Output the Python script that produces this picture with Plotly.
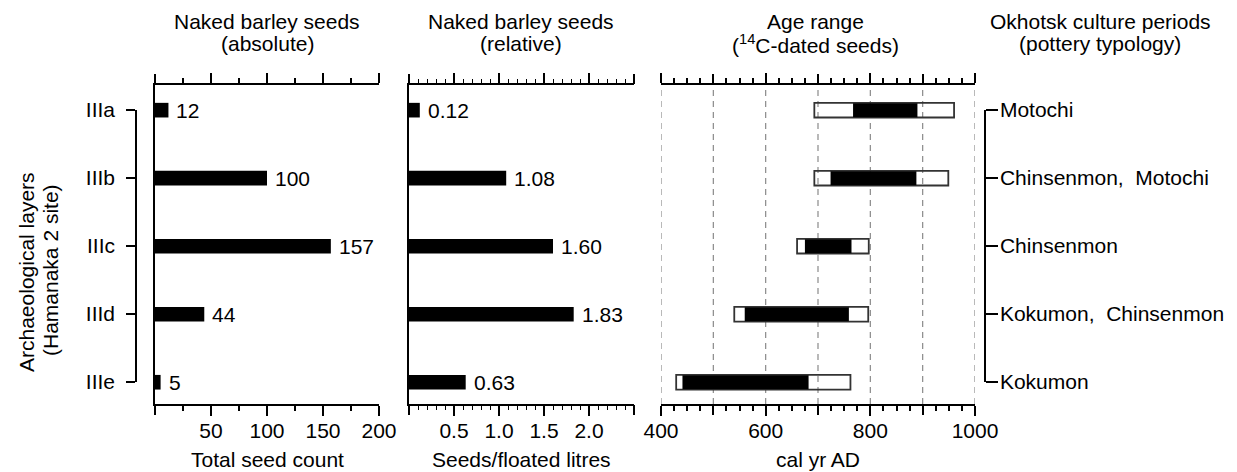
import plotly.graph_objects as go

# ---------------- data ----------------
layers = ["IIIa", "IIIb", "IIIc", "IIId", "IIIe"]
periods = ["Motochi", "Chinsenmon,  Motochi", "Chinsenmon", "Kokumon,  Chinsenmon", "Kokumon"]
seed_count = [12, 100, 157, 44, 5]
seed_density = [0.12, 1.08, 1.60, 1.83, 0.63]
density_labels = ["0.12", "1.08", "1.60", "1.83", "0.63"]
age_outer_start = [693, 693, 660, 540, 429]
age_outer_end = [960, 949, 797, 796, 762]
age_core_start = [767, 724, 675, 560, 441]
age_core_end = [890, 888, 764, 759, 682]

count_ticks = [50, 100, 150, 200]
count_extra_ticks = [0]
density_ticks = [0.5, 1.0, 1.5, 2.0]
density_ticklabels = ["0.5", "1.0", "1.5", "2.0"]
density_extra_ticks = [0, 2.5]
age_ticks = [400, 600, 800, 1000]
age_extra_ticks = [500, 700, 900]
age_grid = [400, 500, 600, 700, 800, 900, 1000]

rows = list(range(len(layers)))

# ---------------- layout helpers ----------------
W, H = 1237, 472
FONT = "Liberation Sans, Arial, sans-serif"
FS = 21


def fx(p):
    return p / W


def fy(p):
    return 1 - p / H


fig = go.Figure()

BAR_W = 0.215

fig.add_trace(go.Bar(y=rows, x=seed_count, orientation="h", width=BAR_W,
                     marker=dict(color="black", line=dict(width=0)),
                     xaxis="x", yaxis="y", hoverinfo="skip"))
fig.add_trace(go.Bar(y=rows, x=seed_density, orientation="h", width=BAR_W,
                     marker=dict(color="black", line=dict(width=0)),
                     xaxis="x2", yaxis="y2", hoverinfo="skip"))
fig.add_trace(go.Bar(y=rows, x=[e - s for s, e in zip(age_outer_start, age_outer_end)],
                     base=age_outer_start, orientation="h", width=BAR_W,
                     marker=dict(color="rgba(255,255,255,0)", line=dict(color="#333333", width=1.8)),
                     xaxis="x3", yaxis="y3", hoverinfo="skip"))
fig.add_trace(go.Bar(y=rows, x=[e - s for s, e in zip(age_core_start, age_core_end)],
                     base=age_core_start, orientation="h", width=BAR_W - 0.01,
                     marker=dict(color="black", line=dict(width=0)),
                     xaxis="x3", yaxis="y3", hoverinfo="skip"))
# dummy traces so that helper axes render
for xa, ya in [("x4", "y4"), ("x5", "y5"), ("x6", "y"), ("x7", "y2"), ("x8", "y3")]:
    fig.add_trace(go.Scatter(x=[None], y=[None], mode="markers", showlegend=False,
                             xaxis=xa, yaxis=ya, hoverinfo="skip"))

tickfont = dict(family=FONT, size=FS, color="black")
ydom = [fy(404), fy(85)]
yrange = [4.32, -0.37]

common_x = dict(showline=True, linecolor="black", linewidth=1.5, mirror="ticks",
                ticks="outside", ticklen=10, tickwidth=1.5, tickcolor="black",
                showgrid=False, zeroline=False, tickfont=tickfont, automargin=False,
                ticklabelstandoff=-3)
extra_x = dict(showline=False, mirror="ticks", ticks="outside", ticklen=10, tickwidth=1.5,
               tickcolor="black", showticklabels=False, showgrid=False, zeroline=False,
               automargin=False, tickmode="array")
common_y = dict(showline=True, linecolor="black", linewidth=1.5, ticks="",
                showticklabels=False, showgrid=False, zeroline=False, automargin=False)

dom1 = [fx(155), fx(379)]
dom2 = [fx(409), fx(634)]
dom3 = [fx(661), fx(975)]

fig.update_layout(
    width=W, height=H,
    margin=dict(l=0, r=0, t=0, b=0, autoexpand=False),
    paper_bgcolor="white", plot_bgcolor="rgba(0,0,0,0)",
    showlegend=False, barmode="overlay",
    font=dict(family=FONT, size=FS, color="black"),
    xaxis=dict(domain=dom1, range=[0, 200], anchor="y",
               tickmode="array", tickvals=count_ticks, ticktext=[str(v) for v in count_ticks],
               minor=dict(dtick=25, ticklen=5, ticks="outside", tickcolor="black", tickwidth=1.5),
               **common_x),
    xaxis6=dict(domain=dom1, range=[0, 200], anchor="y", overlaying="x",
                tickvals=count_extra_ticks, **extra_x),
    yaxis=dict(domain=ydom, range=yrange, anchor="x", **common_y),
    xaxis2=dict(domain=dom2, range=[0, 2.5], anchor="y2",
                tickmode="array", tickvals=density_ticks, ticktext=density_ticklabels,
                minor=dict(dtick=0.1, ticklen=4, ticks="outside", tickcolor="black", tickwidth=1.2),
                **common_x),
    xaxis7=dict(domain=dom2, range=[0, 2.5], anchor="y2", overlaying="x2",
                tickvals=density_extra_ticks, **extra_x),
    yaxis2=dict(domain=ydom, range=yrange, anchor="x2", **common_y),
    xaxis3=dict(domain=dom3, range=[400, 1000], anchor="y3",
                tickmode="array", tickvals=age_ticks, ticktext=[str(v) for v in age_ticks],
                minor=dict(dtick=25, ticklen=5, ticks="outside", tickcolor="black", tickwidth=1.5),
                **common_x),
    xaxis8=dict(domain=dom3, range=[400, 1000], anchor="y3", overlaying="x3",
                tickvals=age_extra_ticks, **extra_x),
    yaxis3=dict(domain=ydom, range=yrange, anchor="x3", showline=False,
                ticks="", showticklabels=False, showgrid=False, zeroline=False, automargin=False),
    xaxis4=dict(domain=[fx(137), fx(150)], anchor="y4", visible=False, range=[0, 1]),
    yaxis4=dict(domain=[fy(382), fy(110)], range=[4, 0], anchor="x4", side="left",
                showline=True, linecolor="black", linewidth=1.5, ticks="outside",
                ticklen=9, tickwidth=1.5, tickcolor="black", tickmode="array",
                tickvals=rows, ticktext=layers, tickfont=tickfont, ticklabelstandoff=7,
                showgrid=False, zeroline=False, automargin=False),
    xaxis5=dict(domain=[fx(970), fx(984)], anchor="y5", visible=False, range=[0, 1]),
    yaxis5=dict(domain=[fy(382), fy(110)], range=[4, 0], anchor="x5", side="right",
                showline=True, linecolor="black", linewidth=1.5, ticks="outside",
                ticklen=12, tickwidth=1.5, tickcolor="black", tickmode="array",
                tickvals=rows, ticktext=periods, tickfont=tickfont, ticklabelstandoff=-2,
                showgrid=False, zeroline=False, automargin=False),
)

# dashed vertical grid lines in the age panel
for g in age_grid:
    fig.add_shape(type="line", xref="x3", yref="y3 domain", x0=g, x1=g, y0=0, y1=1,
                  line=dict(color="#8a8a8a", width=1.2, dash="6px,5px"), layer="below")

ann = []
for r, v in zip(rows, seed_count):
    ann.append(dict(x=v, y=r, xref="x", yref="y", text=str(v), showarrow=False,
                    xanchor="left", yanchor="middle", xshift=6, font=tickfont))
for r, v, t in zip(rows, seed_density, density_labels):
    ann.append(dict(x=v, y=r, xref="x2", yref="y2", text=t, showarrow=False,
                    xanchor="left", yanchor="middle", xshift=6, font=tickfont))

titles = [
    (267, "Naked barley seeds", "(absolute)"),
    (521, "Naked barley seeds", "(relative)"),
    (815, "Age range", "(<sup>14</sup>C-dated seeds)"),
    (1100, "Okhotsk culture periods", "(pottery typology)"),
]
for cx, l1, l2 in titles:
    ann.append(dict(x=fx(cx), y=fy(22), xref="paper", yref="paper", text=l1, showarrow=False,
                    xanchor="center", yanchor="middle", font=tickfont))
    ann.append(dict(x=fx(cx), y=fy(44), xref="paper", yref="paper", text=l2, showarrow=False,
                    xanchor="center", yanchor="middle", font=tickfont))

for cx, t in [(267, "Total seed count"), (521, "Seeds/floated litres"), (818, "cal yr AD")]:
    ann.append(dict(x=fx(cx), y=fy(459), xref="paper", yref="paper", text=t, showarrow=False,
                    xanchor="center", yanchor="middle", font=tickfont))

ann.append(dict(x=fx(26), y=fy(272), xref="paper", yref="paper", text="Archaeological layers",
                showarrow=False, textangle=-90, xanchor="center", yanchor="middle", font=tickfont))
ann.append(dict(x=fx(50), y=fy(270), xref="paper", yref="paper", text="(Hamanaka 2 site)",
                showarrow=False, textangle=-90, xanchor="center", yanchor="middle", font=tickfont))

fig.update_layout(annotations=ann)

fig.write_html("out.html", config={"displayModeBar": False})
